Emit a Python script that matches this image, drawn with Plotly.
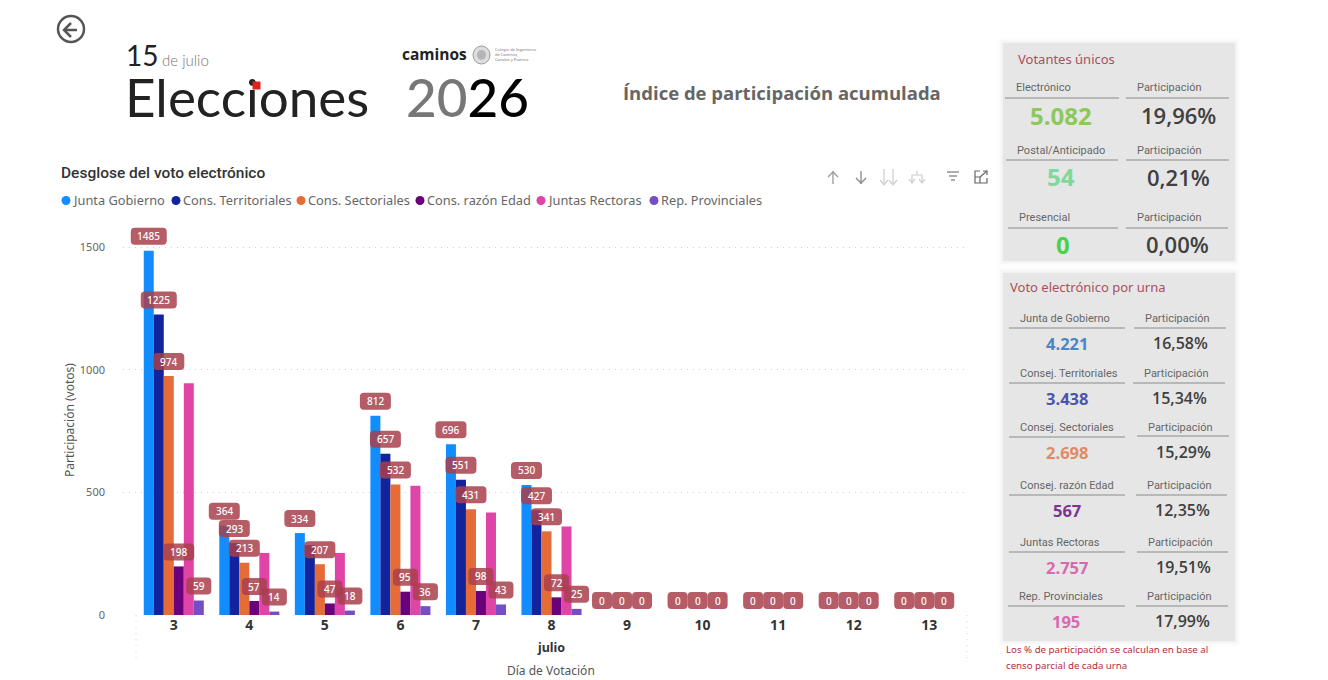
import plotly.graph_objects as go

W = 1328
H = 680

days = [3, 4, 5, 6, 7, 8, 9, 10, 11, 12, 13]
series_names = ["Junta Gobierno", "Cons. Territoriales", "Cons. Sectoriales", "Cons. razón Edad", "Juntas Rectoras", "Rep. Provinciales"]
series_colors = ["#118DFF", "#12239E", "#E66C37", "#6B007B", "#E044A7", "#744EC2"]

junta = [1485, 364, 334, 812, 696, 530, 0, 0, 0, 0, 0]
territoriales = [1225, 293, 285, 657, 551, 427, 0, 0, 0, 0, 0]
sectoriales = [974, 213, 207, 532, 431, 341, 0, 0, 0, 0, 0]
edad = [198, 57, 47, 95, 98, 72, 0, 0, 0, 0, 0]
rectoras = [945, 253, 253, 527, 418, 361, 0, 0, 0, 0, 0]
provinciales = [59, 14, 18, 36, 43, 25, 0, 0, 0, 0, 0]
all_series = [junta, territoriales, sectoriales, edad, rectoras, provinciales]

y_ticks = [0, 500, 1000, 1500]

legend_marker_x = [66, 176, 301, 420, 541, 654]

# kpi tables
top_rows = ["Electrónico", "Postal/Anticipado", "Presencial"]
top_values = ["5.082", "54", "0"]
top_pct = ["19,96%", "0,21%", "0,00%"]
top_colors = ["#8CC85A", "#7ED89A", "#49D14C"]

urna_rows = ["Junta de Gobierno", "Consej. Territoriales", "Consej. Sectoriales", "Consej. razón Edad", "Juntas Rectoras", "Rep. Provinciales"]
urna_values = ["4.221", "3.438", "2.698", "567", "2.757", "195"]
urna_pct = ["16,58%", "15,34%", "15,29%", "12,35%", "19,51%", "17,99%"]
urna_colors = ["#4A86C5", "#4A55AB", "#E08A64", "#7B3494", "#D868B0", "#D868B0"]


def px(x):
    return x / W


def py(y):
    return 1 - y / H


annotations = []
shapes = []


def txt(x, y, text, size, color, anchor="left", weight=400, family="Noto Sans", angle=0):
    annotations.append(dict(x=px(x), y=py(y), xref="paper", yref="paper", text=text, showarrow=False,
                            xanchor=anchor, yanchor="middle", textangle=angle, borderpad=0, borderwidth=0,
                            font=dict(size=size, color=color, family=family, weight=weight)))


def rect(x0, y0, x1, y1, color, opacity=1):
    shapes.append(dict(type="rect", xref="paper", yref="paper", x0=px(x0), x1=px(x1), y0=py(y0), y1=py(y1),
                       fillcolor=color, opacity=opacity, line_width=0, layer="below"))


def hline(x0, x1, y, color="#8a8a8a"):
    shapes.append(dict(type="line", xref="paper", yref="paper", x0=px(x0), x1=px(x1), y0=py(y), y1=py(y),
                       line=dict(color=color, width=1)))


def icon(points, color, width=1.5):
    # points are (x, y) polylines in page pixels
    d = "M " + " L ".join(f"{px(a)},{py(b)}" for a, b in points)
    shapes.append(dict(type="path", xref="paper", yref="paper", path=d, line=dict(color=color, width=width)))


def panel(x0, y0, x1, y1):
    for grow, op in [(5, 0.10), (3, 0.15), (1.5, 0.25)]:
        rect(x0 - grow, y0 - grow, x1 + grow, y1 + grow, "#e2e2e2", op)
    rect(x0, y0, x1, y1, "#E6E6E6")


fig = go.Figure()
for name, color, values in zip(series_names, series_colors, all_series):
    fig.add_trace(go.Bar(name=name, x=days, y=values, marker=dict(color=color, line_width=0), showlegend=False))

# pills over the bars, same place a bar label goes
bar_w = (1 - 0.205) / 6
for s, values in enumerate(all_series):
    for day, v in zip(days, values):
        if v == 0 and s not in (0, 2, 4):
            continue
        if v != 0 and s == 4:
            continue
        if s == 1 and day == 5:
            continue
        label = str(v)
        xc = day + (s - 2.5) * bar_w
        half = {1: 10, 2: 12.5, 3: 15.5, 4: 18}[len(label)]
        top = 23
        bot = 6
        r = 4
        path = (f"M {-half + r},{bot} L {half - r},{bot} Q {half},{bot} {half},{bot + r} L {half},{top - r} "
                f"Q {half},{top} {half - r},{top} L {-half + r},{top} Q {-half},{top} {-half},{top - r} "
                f"L {-half},{bot + r} Q {-half},{bot} {-half + r},{bot} Z")
        shapes.append(dict(type="path", xsizemode="pixel", ysizemode="pixel", xref="x", yref="y",
                           xanchor=xc, yanchor=v, path=path, fillcolor="rgba(168,64,76,0.85)", line_width=0,
                           layer="above"))
        annotations.append(dict(x=xc, y=v, xref="x", yref="y", text=label, showarrow=False, yshift=14.5,
                                yanchor="middle", font=dict(size=10, color="white", family="Noto Sans", weight=500)))

# header
txt(126, 55, "15", 28, "#222222", family="Lato")
txt(162, 60, "de julio", 15, "#777777", family="Lato", weight=300)
txt(125, 97, "Elecciones", 53, "#222222", family="Lato", weight=400)
# red i dot has to sit over the text, shapes can't do that
annotations.append(dict(x=px(252), y=py(81), xref="paper", yref="paper", text="&nbsp;", showarrow=False,
                        width=7, height=7, bgcolor="#E0201C", borderpad=0, font=dict(size=1)))
txt(402, 54, "caminos", 15.5, "#222222", weight=700, family="Open Sans")
shapes.append(dict(type="circle", xref="paper", yref="paper", x0=px(473), x1=px(490), y0=py(46), y1=py(64),
                   fillcolor="#dddddd", line=dict(color="#999999", width=1)))
shapes.append(dict(type="circle", xref="paper", yref="paper", x0=px(477), x1=px(486), y0=py(50), y1=py(60),
                   fillcolor="#b5b5b5", line_width=0))
txt(495, 49.5, "Colegio de Ingenieros", 4, "#777777")
txt(495, 54.5, "de Caminos,", 4, "#777777")
txt(495, 59.5, "Canales y Puertos", 4, "#777777")
txt(406, 97, "<span style='color:#777777'>20</span>26", 53, "#000000", family="Lato", weight=500)
txt(782, 93, "Índice de participación acumulada", 18.5, "#666666", anchor="center", weight=700, family="Open Sans")

# back arrow
shapes.append(dict(type="circle", xref="paper", yref="paper", x0=px(58), x1=px(84), y0=py(16), y1=py(42),
                   line=dict(color="#555555", width=2.5)))
icon([(77, 30), (64, 30)], "#555555", 2.5)
icon([(71, 23), (64, 30), (71, 37)], "#555555", 2.5)

# chart title and legend
txt(61, 173, "Desglose del voto electrónico", 15.5, "#333333", weight=500, family="Roboto")
for mx, name, color in zip(legend_marker_x, series_names, series_colors):
    shapes.append(dict(type="circle", xref="paper", yref="paper", x0=px(mx - 4.5), x1=px(mx + 4.5),
                       y0=py(196), y1=py(205), fillcolor=color, line_width=0))
    txt(mx + 7, 200, name, 12.8, "#666666", family="Noto Sans")

# toolbar icons
for x, c in [(833, "#999999"), (861, "#888888")]:
    tip = 172 if x == 833 else 183
    icon([(x, 171), (x, 184)], c, 1.3)
    wing = tip + 5 if x == 833 else tip - 5
    icon([(x - 5, wing), (x, tip), (x + 5, wing)], c, 1.3)
for x in [884, 893]:
    icon([(x, 169), (x, 185)], "#d0d0d0", 1.3)
    icon([(x - 4, 180), (x, 185), (x + 4, 180)], "#d0d0d0", 1.3)
icon([(917, 171), (917, 175)], "#cccccc", 1.2)
icon([(912, 183), (912, 175), (922, 175), (922, 183)], "#cccccc", 1.2)
icon([(909, 179), (912, 183), (915, 179)], "#cccccc", 1.2)
icon([(919, 179), (922, 183), (925, 179)], "#cccccc", 1.2)
icon([(947, 172), (959, 172)], "#777777", 1.2)
icon([(949, 176), (957, 176)], "#777777", 1.2)
icon([(951, 180), (955, 180)], "#777777", 1.2)
icon([(980, 171), (975, 171), (975, 183), (987, 183), (987, 178)], "#666666", 1.2)
icon([(980, 177), (987, 171)], "#666666", 1.2)
icon([(983, 171), (987, 171), (987, 175)], "#666666", 1.2)
icon([(975, 177), (980, 177), (980, 183)], "#666666", 1.2)

# axis furniture
for x in [136, 967]:
    shapes.append(dict(type="line", xref="paper", yref="paper", x0=px(x), x1=px(x), y0=py(615), y1=py(660),
                       line=dict(color="#d8d8d8", width=1, dash="1px,5px")))
txt(551, 647, "julio", 12.5, "#333333", anchor="center", weight=700)
txt(551, 670, "Día de Votación", 12, "#555555", anchor="center")
txt(69, 420, "Participación (votos)", 12, "#555555", anchor="center", angle=-90)

# right panels
panel(1003, 43, 1235, 261)
panel(1003, 273, 1235, 641)
txt(1018, 59, "Votantes únicos", 13, "#A8505C")
txt(1010, 287, "Voto electrónico por urna", 13, "#A8505C")

top_geom = [
    (1016, 88, 1005, 1119, 98, 1137, 1126, 1229, 1061, 115, 1178),
    (1017, 150, 1006, 1118, 160, 1137, 1126, 1229, 1061, 177, 1178),
    (1019, 218, 1008, 1118, 228, 1137, 1126, 1228, 1063, 244, 1177),
]
for i, g in enumerate(top_geom):
    lx, ly, a0, a1, ay, plx, b0, b1, vx, vy, pcx = g
    txt(lx, ly, top_rows[i], 11, "#666666", family="Roboto")
    txt(plx, ly, "Participación", 11, "#666666", family="Roboto")
    hline(a0, a1, ay)
    hline(b0, b1, ay)
    txt(vx, vy, top_values[i], 24, top_colors[i], anchor="center", weight=700, family="Open Sans")
    txt(pcx, vy, top_pct[i], 22, "#404040", anchor="center", weight=600, family="Open Sans")

urna_geom = [
    (1020, 318, 1009, 1125, 328, 1145, 1134, 1226, 328, 1067, 343, 1180),
    (1020, 373, 1009, 1125, 383, 1144, 1133, 1225, 383, 1067, 398, 1179),
    (1020, 427, 1009, 1125, 437, 1148, 1137, 1229, 436, 1067, 452, 1183),
    (1020, 485, 1009, 1125, 495, 1147, 1136, 1227, 495, 1067, 510, 1182),
    (1020, 542, 1009, 1125, 552, 1148, 1137, 1228, 552, 1067, 567, 1183),
    (1019, 596, 1008, 1125, 606, 1147, 1136, 1228, 606, 1066, 621, 1182),
]
for i, g in enumerate(urna_geom):
    lx, ly, a0, a1, ay, plx, b0, b1, by, vx, vy, pcx = g
    txt(lx, ly, urna_rows[i], 11, "#666666", family="Roboto")
    txt(plx, ly, "Participación", 11, "#666666", family="Roboto")
    hline(a0, a1, ay)
    hline(b0, b1, by)
    txt(vx, vy, urna_values[i], 16.5, urna_colors[i], anchor="center", weight=700, family="Open Sans")
    txt(pcx, vy, urna_pct[i], 16, "#404040", anchor="center", weight=600, family="Open Sans")

txt(1006, 649, "Los % de participación se calculan en base al", 9.7, "#B03040")
txt(1006, 665, "censo parcial de cada urna", 9.7, "#B03040")

x_left = 2.5 - 13 / 75.5
fig.update_layout(
    width=W, height=H, margin=dict(l=0, r=0, t=0, b=0), paper_bgcolor="white", plot_bgcolor="white",
    barmode="group", bargap=0.205, annotations=annotations, shapes=shapes, showlegend=False,
    xaxis=dict(domain=[px(123), px(967)], range=[x_left, 13.5], tickmode="array", tickvals=days,
               showgrid=False, zeroline=False, showline=False, ticks="", automargin=False,
               tickfont=dict(size=14, color="#333333", family="Noto Sans", weight=700)),
    yaxis=dict(domain=[py(615), py(225)], range=[0, 390 / 368 * 1500], tickmode="array", tickvals=y_ticks,
               tickformat="d", showgrid=True, griddash="1px,5px", gridcolor="#d0d0d0", gridwidth=1, zeroline=False,
               showline=False, ticks="", ticklabelstandoff=17, automargin=False,
               tickfont=dict(size=11, color="#666666", family="Noto Sans")),
)

fig.write_html("out.html", config=dict(displayModeBar=False), post_script="document.body.style.margin='0';")
